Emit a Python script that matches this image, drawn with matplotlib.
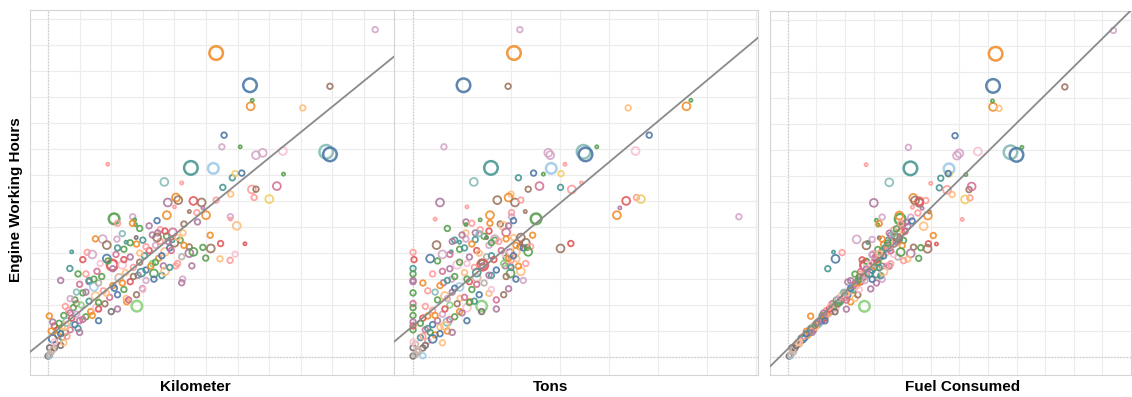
import matplotlib.pyplot as plt

# one entry per vehicle; all values in grid units
HOURS = [
    12.60, 11.70, 10.46, 10.42, 9.65, 9.88, 9.59, 8.54, 8.09, 7.90,
    7.80, 7.93, 7.77, 7.86, 7.28, 7.26, 6.74, 5.95, 5.32, 5.40,
    8.09, 7.42, 6.70, 6.90, 7.06, 7.08, 6.53, 6.27, 6.45, 6.46,
    6.14, 6.58, 7.04, 6.14, 6.04, 5.78, 5.95, 6.04, 5.56, 5.60,
    5.20, 5.12, 5.46, 4.90, 4.78, 4.78, 5.31, 5.05, 4.69, 4.37,
    4.36, 4.18, 4.22, 4.24, 4.00, 4.50, 4.52, 3.86, 3.81, 3.78,
    3.72, 3.96, 3.51, 3.00, 2.86, 3.51, 3.51, 3.22, 3.14, 2.63,
    1.96, 2.13, 2.26, 3.54, 4.54, 4.03, 3.79, 5.40, 5.28, 5.10,
    5.15, 4.54, 4.42, 4.60, 4.31, 4.05, 3.41, 1.58, 2.90, 2.47,
    2.06, 1.90, 1.60, 1.05, 0.36, 0.04, 0.05, 6.01, 6.08, 5.46,
    5.74, 0.20, 0.35, 0.50, 0.62, 0.75, 0.85, 0.95, 1.05, 1.15,
    1.25, 1.35, 1.40, 1.50, 1.55, 1.65, 1.75, 1.80, 1.90, 2.00,
    2.05, 2.15, 2.20, 2.30, 2.35, 2.40, 2.50, 2.55, 2.60, 2.70,
    2.75, 2.85, 2.90, 2.95, 3.05, 3.10, 3.15, 3.25, 3.30, 3.35,
    3.45, 3.55, 3.60, 3.65, 3.70, 3.80, 3.85, 3.90, 3.95, 4.05,
    4.10, 4.15, 4.20, 4.30, 4.35, 4.40, 4.45, 4.50, 4.60, 4.65,
    4.70, 4.80, 1.20, 2.95, 0.70, 1.00, 3.30, 3.00, 2.40, 1.85,
    0.10, 0.28, 0.45, 0.58, 0.80, 0.90, 1.10, 1.20, 1.30, 1.45,
    1.60, 1.70, 1.85, 1.95, 2.10, 2.25, 2.45, 2.50, 2.65, 2.80,
    2.85, 3.00, 3.10, 3.20, 3.25, 3.40, 3.50, 3.60, 3.65, 3.75,
    3.90, 3.95, 4.00, 4.10, 4.20, 4.25, 4.40, 4.45, 4.55, 4.60,
    4.75, 4.85, 4.95, 5.05, 5.15, 5.25, 1.35, 3.20, 3.75, 0.55,
    1.75, 2.95, 3.45, 2.20, 4.30, 4.05, 3.60, 2.60, 1.40, 0.95,
]

KM = [
    10.35, 5.32, 6.39, 8.92, 6.41, 6.46, 8.06, 5.57, 5.50, 8.80,
    8.92, 7.43, 6.58, 6.79, 4.52, 5.23, 3.68, 3.79, 2.09, 5.77,
    6.08, 1.89, 4.23, 5.83, 5.92, 6.13, 5.53, 5.78, 6.45, 6.58,
    6.52, 7.24, 7.45, 4.05, 4.12, 4.00, 4.86, 5.32, 4.71, 4.47,
    4.73, 4.30, 3.76, 3.55, 3.47, 4.27, 5.77, 5.97, 5.13, 5.46,
    6.23, 5.15, 4.90, 4.47, 4.47, 4.18, 3.92, 4.23, 4.99, 5.44,
    5.76, 5.92, 4.55, 4.26, 4.23, 4.04, 3.65, 3.35, 3.60, 2.99,
    2.81, 2.49, 2.47, 2.03, 1.73, 1.24, 1.86, 2.68, 2.74, 2.77,
    2.67, 2.18, 2.47, 2.79, 1.86, 0.75, 0.69, 0.04, 1.30, 1.10,
    0.90, 0.80, 0.50, 0.30, 0.05, 0.00, 0.05, 4.60, 7.00, 5.00,
    4.90, 0.10, 0.20, 0.25, 0.35, 0.45, 0.30, 0.55, 0.70, 0.45,
    0.85, 0.60, 1.00, 0.75, 1.20, 0.90, 1.35, 0.65, 1.55, 1.05,
    1.80, 1.30, 0.85, 1.95, 1.50, 2.20, 1.20, 1.75, 2.40, 1.45,
    2.05, 1.60, 2.60, 1.30, 2.25, 1.70, 2.85, 2.45, 1.55, 3.10,
    2.70, 2.35, 3.30, 2.90, 1.90, 3.50, 2.60, 3.05, 2.15, 3.70,
    3.20, 2.40, 3.85, 3.40, 2.80, 4.00, 3.55, 3.00, 4.10, 3.75,
    3.30, 3.95, 0.20, 0.40, 0.15, 0.10, 3.70, 3.35, 2.80, 2.20,
    0.05, 0.15, 0.40, 0.20, 0.60, 0.40, 0.95, 0.55, 0.35, 1.10,
    1.40, 0.70, 1.60, 0.55, 1.60, 0.70, 1.85, 0.90, 2.10, 1.00,
    2.35, 1.45, 2.70, 1.20, 2.95, 2.05, 3.25, 1.65, 3.40, 2.40,
    3.60, 1.40, 2.90, 3.90, 2.20, 3.10, 2.60, 3.80, 1.50, 3.45,
    2.35, 3.70, 2.90, 3.20, 2.20, 3.45, 0.15, 0.95, 1.10, 0.50,
    2.00, 3.10, 3.85, 2.55, 4.30, 4.60, 4.10, 3.00, 1.60, 1.00,
]

TONS = [
    2.18, 2.06, 1.03, 1.94, 5.58, 5.67, 4.39, 4.82, 0.63, 3.48,
    3.52, 4.54, 2.80, 2.76, 1.59, 2.82, 1.24, 0.55, 2.51, 6.65,
    3.75, 3.10, 3.44, 2.15, 3.02, 2.46, 3.01, 2.00, 3.24, 2.35,
    4.56, 2.58, 2.66, 1.95, 1.72, 1.10, 2.08, 2.20, 2.01, 2.29,
    1.08, 1.78, 1.57, 1.37, 1.27, 1.08, 0.45, 1.84, 2.44, 3.22,
    2.20, 3.01, 2.33, 2.18, 1.98, 1.67, 1.27, 1.50, 1.90, 2.12,
    2.00, 1.88, 1.42, 0.79, 0.62, 1.98, 1.88, 1.99, 1.60, 1.95,
    1.40, 1.16, 0.96, 1.42, 1.67, 0.00, 0.35, 2.01, 1.37, 1.08,
    1.57, 1.08, 0.95, 1.50, 0.48, 0.78, 0.00, 0.30, 0.00, 0.00,
    0.00, 0.00, 0.00, 0.00, 0.00, 0.00, 0.20, 4.35, 4.65, 4.16,
    4.22, 0.10, 0.20, 0.05, 0.30, 0.15, 0.45, 0.35, 0.25, 0.55,
    0.40, 0.70, 0.50, 0.20, 0.85, 0.60, 0.95, 0.40, 1.10, 0.75,
    0.90, 1.25, 0.50, 1.05, 0.65, 1.35, 0.80, 0.30, 1.20, 0.95,
    0.55, 1.45, 1.15, 0.70, 1.30, 0.85, 1.55, 1.05, 0.60, 1.70,
    1.25, 0.90, 1.85, 1.40, 0.50, 1.95, 1.15, 1.60, 0.75, 2.10,
    1.30, 0.95, 2.25, 1.55, 1.20, 2.30, 1.75, 0.85, 2.05, 1.45,
    1.00, 1.90, 0.00, 0.00, 0.40, 0.70, 2.20, 2.10, 1.85, 1.70,
    0.05, 0.10, 0.25, 0.00, 0.20, 0.55, 0.30, 0.65, 0.15, 0.75,
    0.45, 1.00, 0.65, 0.25, 1.15, 0.70, 1.55, 0.45, 0.85, 1.30,
    0.20, 1.10, 1.90, 0.40, 1.30, 0.75, 2.15, 1.10, 0.95, 1.65,
    2.05, 0.60, 1.35, 1.80, 1.05, 2.40, 1.60, 0.80, 1.90, 2.20,
    1.35, 1.55, 0.70, 1.95, 1.20, 2.05, 0.00, 0.00, 0.02, 0.60,
    1.40, 2.25, 2.00, 1.70, 2.10, 2.35, 2.30, 1.60, 1.10, 0.80,
]

FUEL = [
    11.39, 7.27, 7.18, 9.69, 7.18, 7.16, 7.39, 5.85, 4.22, 7.79,
    8.00, 6.65, 5.92, 6.00, 4.29, 5.64, 3.55, 3.01, 3.93, 4.30,
    8.19, 2.74, 5.00, 5.35, 5.64, 5.61, 5.30, 5.75, 5.57, 6.34,
    6.37, 6.43, 6.23, 4.39, 4.45, 4.36, 4.60, 4.83, 4.55, 4.95,
    4.14, 4.00, 3.90, 3.70, 3.55, 3.85, 6.10, 4.75, 5.09, 4.92,
    5.20, 4.89, 4.65, 4.40, 4.30, 4.05, 3.90, 3.85, 4.58, 4.20,
    4.05, 3.70, 3.55, 3.30, 3.10, 3.45, 3.30, 3.10, 3.25, 2.90,
    2.68, 2.20, 2.35, 2.72, 2.41, 1.90, 1.67, 3.30, 3.10, 3.15,
    3.20, 2.95, 2.80, 3.20, 2.75, 1.60, 1.40, 0.80, 2.10, 2.00,
    1.55, 1.60, 1.20, 0.90, 0.15, 0.05, 0.10, 4.60, 6.20, 4.90,
    4.70, 0.20, 0.25, 0.40, 0.45, 0.60, 0.70, 0.75, 0.90, 0.85,
    1.05, 1.10, 1.20, 1.30, 1.25, 1.40, 1.50, 1.35, 1.65, 1.60,
    1.75, 1.85, 1.70, 2.00, 1.90, 2.10, 2.05, 2.20, 2.30, 2.25,
    2.40, 2.35, 2.55, 2.45, 2.60, 2.50, 2.75, 2.70, 2.55, 2.95,
    2.85, 2.80, 3.10, 3.00, 2.75, 3.20, 3.05, 3.25, 2.95, 3.40,
    3.30, 3.15, 3.55, 3.45, 3.35, 3.70, 3.60, 3.50, 3.80, 3.75,
    3.60, 3.95, 0.95, 2.20, 0.50, 0.65, 3.35, 2.95, 2.45, 2.05,
    0.10, 0.18, 0.30, 0.35, 0.55, 0.65, 0.80, 0.95, 1.00, 1.15,
    1.30, 1.25, 1.45, 1.50, 1.80, 1.75, 2.05, 1.95, 2.20, 2.35,
    2.45, 2.50, 2.65, 2.55, 2.85, 2.75, 3.05, 2.90, 3.15, 3.10,
    3.35, 3.00, 3.20, 3.60, 3.40, 3.55, 3.50, 3.80, 3.30, 3.85,
    3.70, 4.10, 3.80, 4.20, 3.95, 4.35, 1.05, 2.35, 2.60, 0.40,
    1.65, 2.70, 3.20, 2.05, 4.00, 3.95, 3.60, 2.50, 1.30, 0.85,
]

# size class of each circle (1 = tiny ... 5 = largest)
SIZE_CLASS = [
    2, 5, 5, 2, 3, 1, 2, 2, 2, 5,
    5, 3, 3, 3, 5, 4, 3, 3, 4, 2,
    1, 1, 1, 2, 2, 2, 2, 2, 3, 2,
    2, 3, 1, 3, 3, 1, 3, 2, 2, 1,
    2, 2, 3, 2, 2, 2, 1, 3, 2, 2,
    1, 3, 2, 2, 3, 2, 2, 2, 2, 2,
    2, 2, 2, 2, 2, 2, 2, 3, 2, 2,
    4, 2, 2, 4, 3, 2, 3, 2, 1, 1,
    2, 2, 1, 1, 3, 1, 2, 2, 2, 2,
    2, 2, 2, 2, 2, 2, 2, 3, 3, 3,
    1, 2, 2, 2, 2, 2, 2, 2, 2, 2,
    2, 3, 2, 2, 2, 2, 2, 2, 3, 2,
    2, 2, 2, 2, 3, 2, 2, 2, 2, 3,
    2, 2, 2, 2, 3, 2, 2, 2, 2, 2,
    2, 3, 2, 2, 2, 2, 2, 2, 2, 3,
    2, 2, 2, 2, 2, 3, 2, 2, 2, 2,
    2, 3, 2, 2, 3, 2, 3, 2, 2, 2,
    2, 2, 2, 2, 2, 2, 2, 3, 2, 2,
    2, 2, 2, 2, 2, 2, 2, 2, 2, 2,
    2, 2, 2, 2, 3, 2, 2, 2, 2, 2,
    2, 3, 2, 2, 2, 2, 2, 2, 2, 3,
    2, 2, 2, 2, 2, 2, 2, 2, 2, 2,
    2, 2, 2, 2, 2, 3, 2, 2, 2, 2,
]

COLOR_IDX = [
    17, 2, 0, 18, 2, 4, 3, 0, 17, 9,
    0, 15, 17, 17, 8, 1, 9, 16, 4, 17,
    4, 11, 11, 8, 7, 0, 8, 3, 11, 18,
    11, 14, 4, 2, 18, 11, 18, 11, 11, 18,
    16, 18, 2, 11, 16, 3, 11, 3, 2, 10,
    10, 18, 4, 18, 16, 4, 8, 13, 4, 3,
    11, 15, 16, 17, 16, 11, 16, 4, 8, 16,
    5, 2, 3, 10, 17, 11, 0, 17, 4, 4,
    2, 17, 8, 12, 18, 8, 8, 2, 16, 4,
    14, 4, 4, 4, 12, 12, 1, 10, 7, 2,
    16, 13, 12, 19, 11, 8, 2, 4, 14, 3,
    0, 9, 16, 10, 4, 17, 2, 11, 15, 5,
    18, 8, 4, 14, 3, 0, 16, 11, 4, 1,
    2, 13, 10, 8, 19, 4, 16, 3, 14, 0,
    11, 15, 5, 18, 4, 2, 16, 8, 14, 3,
    10, 4, 0, 17, 2, 18, 11, 8, 3, 4,
    16, 14, 10, 16, 0, 2, 3, 0, 18, 16,
    13, 19, 12, 15, 11, 0, 8, 3, 4, 14,
    2, 16, 10, 11, 4, 17, 3, 9, 0, 14,
    2, 4, 18, 11, 8, 16, 2, 15, 4, 10,
    0, 17, 3, 14, 8, 11, 4, 16, 2, 18,
    9, 10, 4, 16, 11, 0, 16, 4, 10, 3,
    12, 17, 8, 14, 2, 4, 11, 15, 0, 16,
]

X_LABELS = ["Kilometer", "Tons", "Fuel Consumed"]
Y_LABEL = "Engine Working Hours"

# linear trend lines (hours = slope * x + intercept)
TREND_SLOPE = [0.987, 1.575, 1.088]
TREND_INTERCEPT = [0.76, 1.20, 0.315]

PALETTE = [
    "#4e79a7", "#a0cbe8", "#f28e2b", "#ffbe7d", "#59a14f",
    "#8cd17d", "#b6992d", "#f1ce63", "#499894", "#86bcb6",
    "#e15759", "#ff9d9a", "#79706e", "#bab0ac", "#d37295",
    "#fabfd2", "#b07aa1", "#d4a6c8", "#9d7660", "#d7b5a6",
]
MARKER_AREA = {1: 5, 2: 16, 3: 32, 4: 58, 5: 95}

plt.rcParams["font.family"] = ["Liberation Sans", "DejaVu Sans"]

fig = plt.figure(figsize=(11.32, 3.97), dpi=100)

# axes rectangles in figure fractions, x-limits and label x position
layout = [
    ([0.0265, 0.0554, 0.3225, 0.919], (-0.57, 10.98), 0.452),
    ([0.3480, 0.0554, 0.3216, 0.919], (-0.39, 7.04), 0.430),
    ([0.6800, 0.0554, 0.3190, 0.917], (-0.63, 12.00), 0.535),
]
x_series = [KM, TONS, FUEL]

colors = [PALETTE[i] for i in COLOR_IDX]
areas = [MARKER_AREA[s] for s in SIZE_CLASS]
widths = [1.8 if s >= 4 else 1.3 for s in SIZE_CLASS]

for k, (rect, xlim, lab_x) in enumerate(layout):
    ax = fig.add_axes(rect)
    ax.set_xlim(*xlim)
    ax.set_ylim(-0.69, 13.35)

    for gx in range(0, int(xlim[1]) + 1):
        ax.axvline(gx, color="#ececec", lw=0.8, zorder=0)
    for gy in range(0, 14):
        ax.axhline(gy, color="#ececec", lw=0.8, zorder=0)
    ax.axvline(0, color="#c8c8c8", lw=0.9, ls=(0, (1, 1.5)), zorder=0.5)
    ax.axhline(0, color="#c8c8c8", lw=0.9, ls=(0, (1, 1.5)), zorder=0.5)

    ax.scatter(x_series[k], HOURS, s=areas, facecolors="none",
               edgecolors=colors, linewidths=widths, alpha=0.9, zorder=2)

    ax.axline((0, TREND_INTERCEPT[k]), slope=TREND_SLOPE[k],
              color="#8a8a8a", lw=1.3, zorder=3)

    ax.set_xticks([])
    ax.set_yticks([])
    for sp in ax.spines.values():
        sp.set_color("#d4d4d4")
        sp.set_linewidth(0.8)

    ax.set_xlabel(X_LABELS[k], fontsize=11, fontweight="bold")
    ax.xaxis.set_label_coords(lab_x, -0.015)
    if k == 0:
        ax.set_ylabel(Y_LABEL, fontsize=11, fontweight="bold")
        ax.yaxis.set_label_coords(-0.019, 0.482)

fig.savefig("out.png", dpi=100)
